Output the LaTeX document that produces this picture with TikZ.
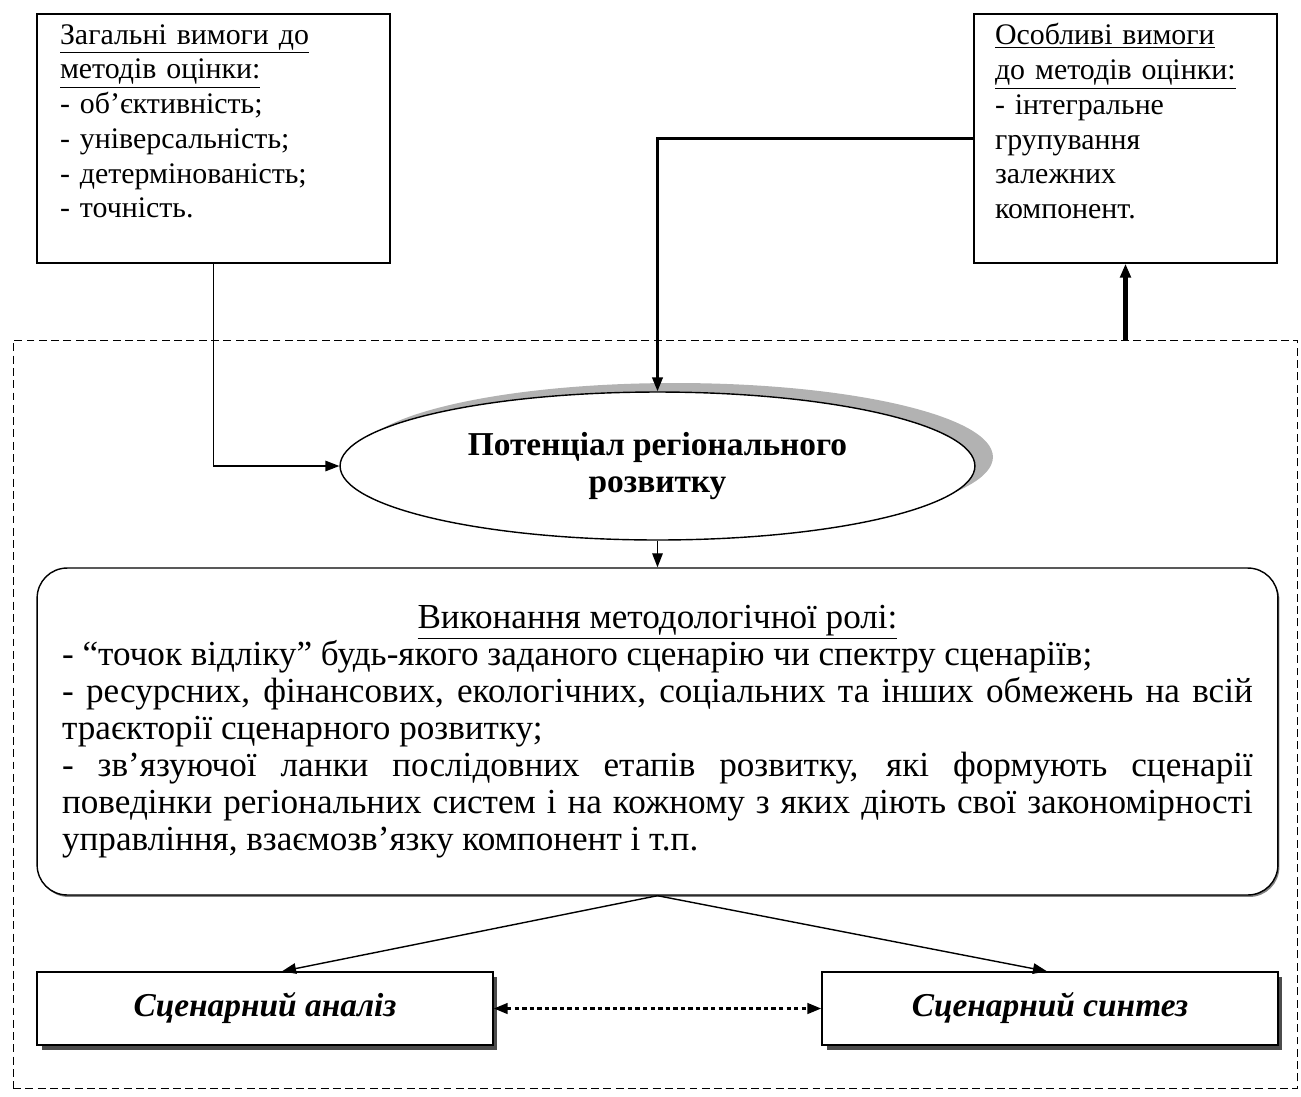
\documentclass[tikz,border=0pt]{standalone}
\usepackage{fontspec}
\setmainfont{Liberation Serif}
\usetikzlibrary{shapes.geometric,shadows,arrows.meta}

\begin{document}
\begin{tikzpicture}[x=0.02cm,y=-0.02cm,line width=0.8pt,
  >={Triangle[length=8pt,width=6pt]},
  reqbox/.style={rectangle,draw,align=left,minimum height=4.98cm,inner ysep=0pt,
    font=\fontsize{17}{19.8}\selectfont},
  scenbox/.style={rectangle,draw,fill=white,minimum width=9.12cm,minimum height=1.46cm,
    font=\fontsize{19}{22}\selectfont\bfseries\itshape,
    drop shadow={shadow xshift=0.09cm,shadow yshift=-0.09cm,fill=black!70,draw=none,opacity=1}}]
\useasboundingbox (0,0) rectangle (1301,1096);
\node at (655.5,714) [rectangle,draw,line width=0.5pt,dash pattern=on 4.5pt off 2.5pt,
  minimum width=25.7cm,minimum height=14.96cm] (frame) {};
\node at (213.5,138.5) [reqbox,text width=6.14cm,inner xsep=0.46cm] (zag)
  {\underline{Загальні вимоги до}\\ \underline{методів оцінки:}\\ - об’єктивність;\\
   - універсальність;\\ - детермінованість;\\ - точність.\\ \mbox{}};
\node at (1125.5,138.5) [reqbox,text width=5.22cm,inner xsep=0.42cm] (osob)
  {\underline{Особливі вимоги}\\ \underline{до методів оцінки:}\\ - інтегральне\\
   групування\\ залежних\\ компонент.\\ \mbox{}};
\node at (657.5,466) [ellipse,draw,fill=white,minimum width=12.7cm,minimum height=2.96cm,
  inner sep=0pt,align=center,font=\fontsize{19}{21.5}\selectfont\bfseries,
  drop shadow={shadow xshift=0.36cm,shadow yshift=0.18cm,fill=black!30,draw=none,opacity=1}] (pot)
  {Потенціал регіонального\\ розвитку};
\node at (657.5,731.5) [rectangle,rounded corners=0.6cm,draw,fill=white,minimum height=6.54cm,
  text width=23.82cm,inner xsep=0.5cm,align=justify,font=\fontsize{20}{21}\selectfont,
  drop shadow={shadow xshift=0.03cm,shadow yshift=-0.04cm,fill=black!50,draw=none,opacity=1}] (role)
  {\hspace*{\fill}\underline{Виконання методологічної ролі:}\hspace*{\fill}\\
   - “точок відліку” будь-якого заданого сценарію чи спектру сценаріїв;\\
   - ресурсних, фінансових, екологічних, соціальних та інших обмежень на всій\linebreak
   траєкторії сценарного розвитку;\\
   - зв’язуючої ланки послідовних етапів розвитку, які формують сценарії\linebreak
   поведінки регіональних систем і на кожному з яких діють свої закономірності\linebreak
   управління, взаємозв’язку компонент і т.п.};
\node at (265,1008.5) [scenbox] (anal) {Сценарний аналіз};
\node at (1050,1008.5) [scenbox] (synt) {Сценарний синтез};
\draw[->] (zag.south) |- (pot.west);
\draw[->,line width=1.4pt] (osob.west) -| (pot.north);
\draw[->,line width=2.6pt] (frame.north -| osob.south) -- (osob.south);
\draw[->] (pot.south) -- (role.north);
\draw[->] (role.south) -- ([xshift=0.34cm]anal.north);
\draw[->] (role.south) -- ([xshift=-0.06cm]synt.north);
\draw[<->,line width=1.6pt,dash pattern=on 2.5pt off 1.8pt] (anal.east) -- (synt.west);
\end{tikzpicture}
\end{document}
